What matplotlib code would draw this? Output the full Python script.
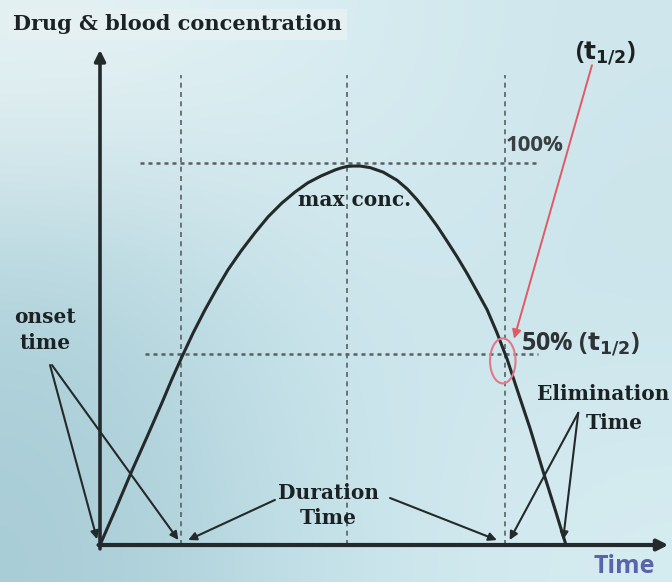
import numpy as np
import matplotlib.pyplot as plt
from matplotlib.patches import Ellipse

# curve: time (arbitrary units) vs concentration (% of max)
t_curve = [0, 0.33, 0.65, 0.96, 1.27, 1.47, 1.67, 1.90, 2.14, 2.37, 2.61, 2.88,
           3.16, 3.43, 3.71, 3.98, 4.24, 4.51, 4.80, 4.92, 5.04, 5.16, 5.31,
           5.51, 5.78, 6.06, 6.27, 6.47, 6.67, 6.88, 7.08, 7.29, 7.49, 7.69,
           7.90, 8.10, 8.31, 8.51, 8.78, 9.04, 9.29, 9.51]
c_curve = [0, 9.7, 19.4, 28.3, 37.4, 43.5, 49.2, 55.5, 61.5, 66.8, 72.0, 77.0,
           81.7, 85.9, 89.5, 92.4, 94.8, 96.6, 98.2, 98.7, 99.1, 99.2, 99.2,
           98.8, 97.6, 95.5, 93.2, 90.4, 87.2, 83.5, 79.6, 75.4, 71.1, 66.5,
           61.6, 55.6, 48.6, 40.8, 30.4, 19.4, 9.2, 0]

# reference lines
t_onset = 1.65
t_peak = 5.04
t_half = 8.27
c_levels = [100, 50]
c_level_span = [(0.82, 8.9), (0.92, 8.94)]

# axis ends
t_axis_end = 11.6
c_axis_end = 129.6

# scale of the picture (pixels per unit) and origin
PX_T = 49.0
PX_C = 3.82
W, H = 672, 582
X0, Y0 = 100, 545

fig = plt.figure(figsize=(W / 100, H / 100), dpi=100)
ax = fig.add_axes([0, 0, 1, 1])
xlim = (-X0 / PX_T, (W - X0) / PX_T)
ylim = (-(H - Y0) / PX_C, Y0 / PX_C)
ax.axis('off')

# light blue gradient background
bg = np.array([
    [[230, 242, 244], [216, 237, 242], [206, 230, 236]],
    [[176, 211, 220], [208, 232, 238], [202, 228, 235]],
    [[168, 204, 214], [200, 228, 235], [214, 236, 241]],
]) / 255.0
ax.imshow(bg, extent=[*xlim, *ylim], interpolation='bicubic',
          aspect='auto', zorder=0, origin='upper')
ax.set_xlim(*xlim)
ax.set_ylim(*ylim)

dark = '#24292c'
dash = '#596064'

# dashed guides
for tv in [t_onset, t_peak, t_half]:
    ax.plot([tv, tv], [0, 123], ls=(0, (3, 2.6)), color=dash, lw=1.2, zorder=1)
for cv, (a, b) in zip(c_levels, c_level_span):
    ax.plot([a, b], [cv, cv], ls=(0, (1.6, 1.6)), color=dash, lw=1.8, zorder=1)

# axes with arrows
ax.annotate('', xy=(0, c_axis_end), xytext=(0, -1),
            arrowprops=dict(arrowstyle='-|>', lw=2.6, color=dark,
                            mutation_scale=16, shrinkA=0, shrinkB=0))
ax.annotate('', xy=(t_axis_end, 0), xytext=(-0.03, 0),
            arrowprops=dict(arrowstyle='-|>', lw=3, color=dark,
                            mutation_scale=16, shrinkA=0, shrinkB=0))

# concentration curve
ax.plot(t_curve, c_curve, color=dark, lw=2.2, zorder=3,
        solid_capstyle='round', solid_joinstyle='round')

serif = 'DejaVu Serif'
txt = '#1c2124'
ax.text(-1.78, 136.3, 'Drug & blood concentration', family=serif, weight='bold',
        fontsize=15, color=txt, va='center', ha='left',
        bbox=dict(facecolor='#e4f0f2', edgecolor='none', pad=4))
ax.text(5.19, 90.3, 'max conc.', family=serif, weight='bold',
        fontsize=14.5, color=txt, ha='center', va='center')
ax.text(-1.12, 56.3, 'onset\ntime', family=serif, weight='bold', fontsize=14.5,
        color=txt, ha='center', va='center', linespacing=1.35)
ax.text(4.66, 10.3, 'Duration\nTime', family=serif, weight='bold', fontsize=14.5,
        color=txt, ha='center', va='center', linespacing=1.35)
ax.text(8.92, 39.5, 'Elimination', family=serif, weight='bold', fontsize=14.5,
        color=txt, ha='left', va='center')
ax.text(10.5, 32.0, 'Time', family=serif, weight='bold', fontsize=14.5,
        color=txt, ha='center', va='center')

sans = 'Open Sans'
ax.text(8.28, 104.5, '100%', family=sans, weight='bold', fontsize=16,
        color='#3a3f42', ha='left', va='center')
ax.text(8.6, 52.6, r'50% ($\mathbf{t_{1/2}}$)', family=sans, weight='bold',
        fontsize=18, color='#2e3336', ha='left', va='center')
ax.text(10.31, 128.6, r'($\mathbf{t_{1/2}}$)', family=sans, weight='bold',
        fontsize=18, color=txt, ha='center', va='center')
ax.text(10.7, -5.6, 'Time', family=sans, weight='bold', fontsize=18,
        color='#5a64a8', ha='center', va='center')

# red t1/2 marker
red = '#e05a66'
ax.annotate('', xy=(8.45, 54.0), xytext=(10.04, 125.6),
            arrowprops=dict(arrowstyle='-|>', lw=1.4, color=red,
                            mutation_scale=13, shrinkA=0, shrinkB=0))
ax.add_patch(Ellipse((t_half - 0.05, 48.2), 0.52, 11.8, fill=False,
                     edgecolor='#e07a88', lw=1.5, zorder=4))

# pointer arrows
arrow_kw = dict(arrowstyle='-|>', lw=1.5, color=dark, mutation_scale=12,
                shrinkA=0, shrinkB=0)
pointers = [
    ((-1.02, 47.1), (-0.06, 1.5)),
    ((-0.98, 47.1), (t_onset - 0.05, 1.3)),
    ((3.57, 11.8), (1.80, 1.3)),
    ((5.92, 12.3), (8.10, 1.3)),
    ((9.76, 34.6), (8.36, 1.3)),
    ((9.76, 34.6), (9.45, 1.3)),
]
for start, end in pointers:
    ax.annotate('', xy=end, xytext=start, arrowprops=arrow_kw, zorder=5)

fig.savefig('out.png', dpi=100)
